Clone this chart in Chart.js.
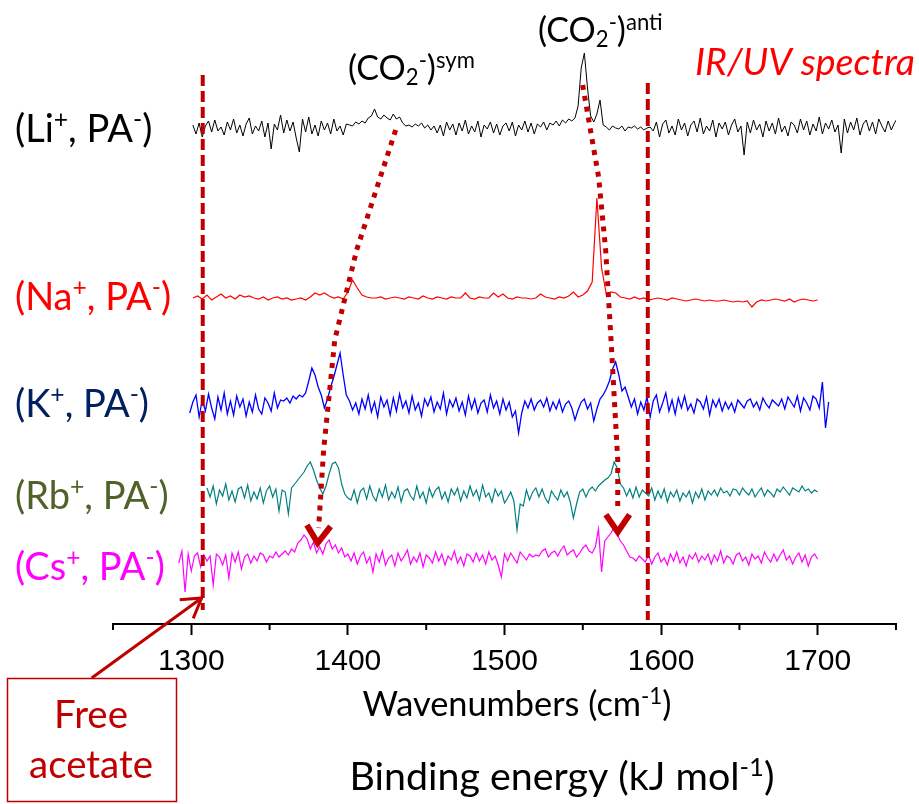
<!DOCTYPE html>
<html>
<head>
<meta charset="utf-8">
<script src="https://cdn.jsdelivr.net/npm/chart.js@4.4.1/dist/chart.umd.min.js"></script>
<style>
  html, body { margin: 0; padding: 0; background: #fff; }
  canvas { display: block; }
</style>
</head>
<body>
<canvas id="myChart" width="919" height="804"></canvas>
<script>
// (Li+, PA-) black trace, heights above its own baseline
const liStart = 1301, liStep = 2;
const liValues = [3,-6,5,-9,2,7,-4,8,-3,1,-7,6,-2,9,-5,3,-8,4,10,-6,2,-3,7,-9,5,-21,4,-2,13,-5,8,-3,6,-10,-24,9,-4,11,-6,3,-8,7,-2,5,-6,9,-3,2,-7,4,
  3,2,6,4,7,5,10,12,19,11,9,13,10,8,14,9,11,5,2,3,1,4,2,5,0,3,-2,2,
  -5,3,-8,6,-2,4,-7,5,-3,8,-6,2,-4,7,-9,3,-1,6,-5,4,-7,2,5,-3,6,-8,3,-2,7,-4,5,-6,4,1,6,-2,5,3,7,2,8,5,9,7,
  10,22,60,75,40,12,6,14,28,3,
  1,-2,2,0,-1,2,-3,1,0,2,-1,1,-2,0,1,
  -3,6,-9,4,8,-5,2,-7,9,-2,5,-8,3,7,-4,10,-6,2,-3,8,-9,5,-1,6,-7,3,9,-4,2,-27,6,-5,8,-2,4,-9,7,-3,5,-6,10,-4,2,-8,6,3,-5,9,-2,7,-7,4,-3,11,-6,5,-1,8,-4,3,-25,9,-5,6,-2,10,-7,4,8,-3,6,-6,9,2,-4,7,-2,5,10];

// (Na+, PA-) red trace
const naStart = 1301, naStep = 3;
const naValues = [0,2,-1,3,-2,1,4,0,2,-1,3,1,2,0,-1,1,-2,0,1,-1,0,-2,-1,0,-2,1,5,3,5,2,0,1,-1,6,
  18,10,3,1,0,
  0,1,-1,0,1,0,-1,1,0,-1,2,0,-1,1,0,-1,1,0,0,5,0,-1,1,0,0,5,1,4,0,-1,1,0,0,-1,0,4,1,0,-1,1,0,2,
  6,1,3,7,16,100,30,4,6,5,1,
  0,-1,1,-1,0,-2,-1,0,-1,-2,0,-1,-2,-3,-2,-1,-2,-3,-2,-3,-3,-2,-3,-4,-3,-4,-3,-9,-4,-2,-3,-2,-1,-2,-3,-1,-4,-2,-1,-2,-3,-2];

// (K+, PA-) blue trace
const kStart = 1299, kStep = 2;
const kValues = [-8,3,10,-12,5,-6,11,-3,-14,8,-5,12,-9,4,-10,9,-2,6,-11,3,-7,10,-4,-9,7,2,-6,12,-3,5,4,7,2,9,6,10,
  8,12,24,37,30,18,10,-3,6,18,28,40,52,30,10,4,
  -5,2,-9,6,-4,10,-7,3,-12,8,-2,5,-10,7,-6,11,-3,4,-8,9,-5,2,-11,6,-1,8,-7,3,-4,12,-9,5,-2,7,-6,3,-10,9,-4,6,-8,2,5,-7,10,-3,4,-9,6,-5,3,-12,-6,
  -28,
  -8,4,-3,6,-5,2,5,-2,7,-6,3,-4,5,-7,1,4,-3,-15,-5,3,6,-4,2,-16,
  -4,6,10,16,24,36,43,30,14,18,8,
  -2,6,-9,3,-5,8,-12,4,10,-7,2,12,-6,5,-9,7,-3,9,-5,1,-8,6,3,-4,8,-10,5,-2,6,-6,3,-4,2,-7,5,1,-3,4,6,-2,3,-5,7,1,-3,5,2,-1,6,-4,8,3,-2,9,-6,7,2,-5,9,6,-3,23,-23,3];

// (Rb+, PA-) teal trace
const rbStart = 1310, rbStep = 2;
const rbValues = [6,-3,8,-10,4,-2,10,-6,3,-8,5,7,-4,9,-7,2,-5,6,-9,3,8,-3,5,-17,4,2,-20,
  6,10,14,18,22,28,32,24,14,6,0,8,20,30,32,26,10,0,-4,
  -6,4,-9,3,6,-5,8,-2,-7,5,-3,9,-6,2,-4,7,-8,3,5,-2,-6,8,-4,2,-9,6,-3,4,7,-5,2,-8,5,-1,6,-7,3,-4,8,-2,4,-6,9,-3,1,-8,5,-2,3,-9,-4,2,-7,
  -36,-10,
  -12,4,-6,2,6,-3,5,-4,-9,3,-2,-6,4,-3,2,-8,
  -24,-10,
  2,5,-3,4,7,3,8,11,14,16,20,32,26,10,
  6,-2,5,-4,7,-3,4,1,-2,6,-6,3,-4,5,-8,2,-3,4,-7,1,-3,3,-9,2,-4,5,-6,3,-1,4,-2,6,1,3,-2,5,4,-1,6,2,-1,5,-3,2,6,-2,4,1,-3,5,2,7,3,-1,6,4,2,8,3,5,1,4,2];

// (Cs+, PA-) magenta trace
const csStart = 1292, csStep = 2;
const csValues = [-4,8,-33,5,-12,3,6,-8,4,-2,3,-26,5,2,-6,4,-19,6,-3,7,-10,2,5,-4,3,-2,6,4,-3,
  3,1,7,2,5,8,4,10,7,16,19,24,20,10,17,6,12,5,15,19,10,14,6,11,2,5,
  -2,6,-5,3,7,-4,2,-13,5,-3,8,-6,1,4,-7,6,-2,3,9,-5,2,-3,6,-8,4,1,-4,7,-2,5,-6,3,-1,8,-4,2,-7,5,3,-3,6,-2,4,-5,7,-1,3,-6,-18,5,-2,6,1,-4,7,3,-1,5,2,4,
  3,8,10,2,6,8,3,9,13,4,7,9,2,6,11,14,8,6,12,30,-13,18,22,26,32,25,18,14,8,2,
  1,-2,3,0,-3,4,-5,2,6,-3,1,-6,5,-2,7,-4,2,-7,4,0,6,-3,3,-1,5,-5,4,-2,8,-4,3,1,-5,4,6,-2,2,-6,5,0,3,-4,7,1,-3,5,-2,4,9,-1,3,-5,2,6,-3,4,-7,2,5,0];

// stacking of the traces (same units as the values)
const traceOffsets = [496, 326, 219, 130, 65];
const traceColors = ['#000000', '#FF0000', '#0000FF', '#008080', '#FF00FF'];
const tickLabels = [1300, 1400, 1500, 1600, 1700];

// guide lines and shift arrows, in cm-1 / trace units
const freeAcetate = 1307.3;
const irUvLimit = 1591.5;
const symShift = [[1430.5, 494], [1405.6, 374], [1391.6, 284], [1384.5, 174], [1381.3, 96], [1380.7, 81]];
const antiShift = [[1549.9, 539], [1560.1, 447], [1564.6, 374], [1568.4, 274], [1572.3, 164], [1572.3, 112], [1572.3, 92]];
const acetateArrow = [[1236.4, -54], [1306.6, 26]];

const toPoints = function (start, step, values, offset) {
  return values.map(function (v, i) { return { x: start + i * step, y: offset + v }; });
};

const starts = [liStart, naStart, kStart, rbStart, csStart];
const steps = [liStep, naStep, kStep, rbStep, csStep];
const series = [liValues, naValues, kValues, rbValues, csValues];
const widths = [1, 1.2, 1.3, 1.2, 1.2];

const datasets = series.map(function (values, k) {
  return {
    data: toPoints(starts[k], steps[k], values, traceOffsets[k]),
    borderColor: traceColors[k],
    borderWidth: widths[k],
    pointRadius: 0,
    tension: 0
  };
});

const FONT = 'Lato, "Open Sans", sans-serif';
const DARKRED = '#C00000';

// text with superscript / subscript pieces
function richWidth(ctx, parts, size, style) {
  let total = 0;
  parts.forEach(function (p) {
    ctx.font = style + ' ' + (p[1] ? size * 0.65 : size) + 'px ' + FONT;
    total += ctx.measureText(p[0]).width;
  });
  return total;
}

function richText(ctx, parts, x, y, size, color, align, style) {
  style = style || '';
  const total = richWidth(ctx, parts, size, style);
  let cx = align === 'center' ? x - total / 2 : x;
  ctx.fillStyle = color;
  ctx.textAlign = 'left';
  ctx.textBaseline = 'alphabetic';
  parts.forEach(function (p) {
    ctx.font = style + ' ' + (p[1] ? size * 0.65 : size) + 'px ' + FONT;
    let dy = 0;
    if (p[1] === 'sup') dy = -size * 0.36;
    if (p[1] === 'sub') dy = size * 0.14;
    ctx.fillText(p[0], cx, y + dy);
    cx += ctx.measureText(p[0]).width;
  });
}

function fitSize(ctx, parts, width, style) {
  return 100 * width / richWidth(ctx, parts, 100, style || '');
}

function arrowHead(ctx, from, tip, len, angle) {
  const a = Math.atan2(from[1] - tip[1], from[0] - tip[0]);
  ctx.beginPath();
  ctx.moveTo(tip[0] + len * Math.cos(a - angle), tip[1] + len * Math.sin(a - angle));
  ctx.lineTo(tip[0], tip[1]);
  ctx.lineTo(tip[0] + len * Math.cos(a + angle), tip[1] + len * Math.sin(a + angle));
  ctx.stroke();
}

const annotations = {
  id: 'annotations',
  afterDatasetsDraw(chart) {
    const ctx = chart.ctx;
    const xs = chart.scales.x, ys = chart.scales.y;
    const pt = function (p) { return [xs.getPixelForValue(p[0]), ys.getPixelForValue(p[1])]; };
    const bottom = chart.chartArea.bottom;
    ctx.save();

    // minor ticks
    ctx.strokeStyle = '#000';
    ctx.lineWidth = 2;
    for (let w = 1250; w <= 1750; w += 100) {
      const x = xs.getPixelForValue(w);
      ctx.beginPath();
      ctx.moveTo(x, bottom);
      ctx.lineTo(x, bottom + 6);
      ctx.stroke();
    }

    // dashed guide lines
    ctx.strokeStyle = DARKRED;
    ctx.lineWidth = 4;
    ctx.setLineDash([11, 5]);
    [[freeAcetate, 549, 14], [irUvLimit, 541, 4]].forEach(function (l) {
      const a = pt([l[0], l[1]]), b = pt([l[0], l[2]]);
      ctx.beginPath();
      ctx.moveTo(a[0], a[1]);
      ctx.lineTo(b[0], b[1]);
      ctx.stroke();
    });

    // dotted shift arrows
    [symShift, antiShift].forEach(function (path) {
      const p = path.map(pt);
      ctx.lineWidth = 5;
      ctx.setLineDash([5, 6]);
      ctx.lineCap = 'butt';
      ctx.beginPath();
      ctx.moveTo(p[0][0], p[0][1]);
      for (let i = 1; i < p.length - 1; i++) ctx.lineTo(p[i][0], p[i][1]);
      ctx.stroke();
      ctx.setLineDash([]);
      ctx.lineJoin = 'miter';
      ctx.lineWidth = 6;
      arrowHead(ctx, p[p.length - 2], p[p.length - 1], 21, 0.6);
    });

    // free acetate callout
    const a0 = pt(acetateArrow[0]), a1 = pt(acetateArrow[1]);
    ctx.lineWidth = 3;
    ctx.beginPath();
    ctx.moveTo(a0[0], a0[1]);
    ctx.lineTo(a1[0], a1[1]);
    ctx.stroke();
    arrowHead(ctx, a0, a1, 22, 0.55);
    ctx.lineWidth = 1.5;
    ctx.strokeRect(7.5, 678.5, 169, 123);
    const accSize = fitSize(ctx, [['acetate', '']], 124);
    richText(ctx, [['Free', '']], 91, 728, accSize, DARKRED, 'center');
    richText(ctx, [['acetate', '']], 91, 778, accSize, DARKRED, 'center');

    // trace labels
    const labelParts = [
      [['(Li', ''], ['+', 'sup'], [', PA', ''], ['-', 'sup'], [')', '']],
      [['(Na', ''], ['+', 'sup'], [', PA', ''], ['-', 'sup'], [')', '']],
      [['(K', ''], ['+', 'sup'], [', PA', ''], ['-', 'sup'], [')', '']],
      [['(Rb', ''], ['+', 'sup'], [', PA', ''], ['-', 'sup'], [')', '']],
      [['(Cs', ''], ['+', 'sup'], [', PA', ''], ['-', 'sup'], [')', '']]
    ];
    const labelColors = ['#000000', '#FF0000', '#002060', '#4F6228', '#FF00FF'];
    const labelBase = [142, 310, 417, 509, 580];
    labelParts.forEach(function (parts, k) {
      richText(ctx, parts, 15, labelBase[k], 38, labelColors[k], 'left');
    });

    // band labels
    richText(ctx, [['(CO', ''], ['2', 'sub'], ['-', 'sup'], [')', ''], ['sym', 'sup']], 348, 80, 34, '#000', 'left');
    richText(ctx, [['(CO', ''], ['2', 'sub'], ['-', 'sup'], [')', ''], ['anti', 'sup']], 538, 42, 34, '#000', 'left');
    const irParts = [['IR/UV spectra', '']];
    richText(ctx, irParts, 695, 75, fitSize(ctx, irParts, 220, 'italic'), '#FF0000', 'left', 'italic');

    // axis titles
    const wnParts = [['Wavenumbers (cm', ''], ['-1', 'sup'], [')', '']];
    richText(ctx, wnParts, 517, 716, fitSize(ctx, wnParts, 309), '#000', 'center');
    const beParts = [['Binding energy (kJ mol', ''], ['-1', 'sup'], [')', '']];
    richText(ctx, beParts, 562, 790, fitSize(ctx, beParts, 425), '#000', 'center');

    ctx.restore();
  }
};

var ctx = document.getElementById('myChart').getContext('2d');
var chart = new Chart(ctx, {
  type: 'line',
  data: { datasets: datasets },
  options: {
    responsive: false,
    animation: false,
    devicePixelRatio: 1,
    layout: { padding: { left: 113, right: 23, top: 0, bottom: 0 } },
    plugins: { legend: { display: false }, tooltip: { enabled: false } },
    scales: {
      x: {
        type: 'linear',
        min: 1250,
        max: 1750,
        afterFit: function (scale) { scale.height = 180; },
        border: { display: true, color: '#000', width: 2 },
        grid: {
          drawOnChartArea: false,
          drawTicks: true,
          tickLength: 11,
          tickWidth: 2,
          tickColor: function (c) { return tickLabels.indexOf(c.tick.value) >= 0 ? '#000' : 'rgba(0,0,0,0)'; }
        },
        ticks: {
          stepSize: 50,
          maxRotation: 0,
          autoSkip: false,
          padding: 9,
          color: '#000',
          font: { family: '"Liberation Sans", Arial, sans-serif', size: 30 },
          callback: function (v) { return tickLabels.indexOf(v) >= 0 ? String(v) : ''; }
        }
      },
      y: { display: false, min: 0, max: 624 }
    }
  },
  plugins: [annotations]
});
</script>
</body>
</html>
